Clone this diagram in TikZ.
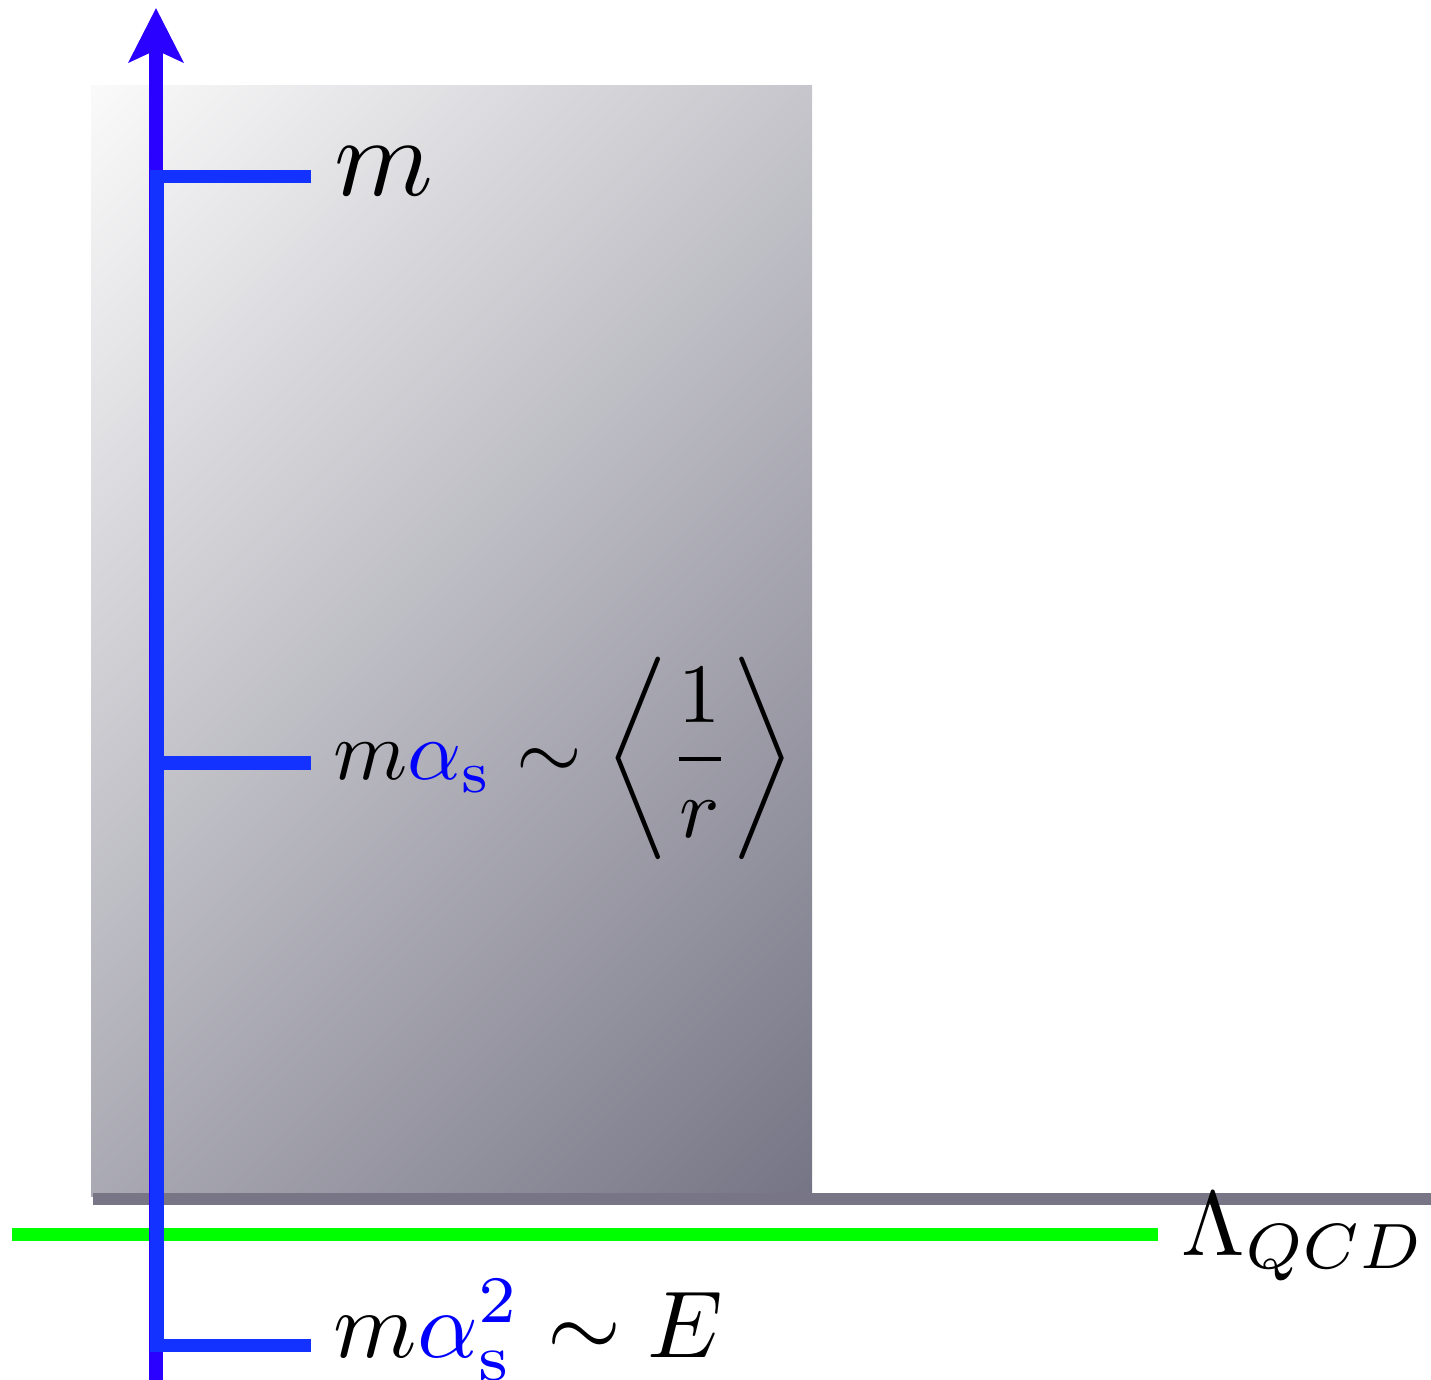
\documentclass[tikz,border=0pt]{standalone}
\usepackage{amsmath,xcolor}
\usetikzlibrary{arrows.meta,positioning}
\definecolor{axisviolet}{HTML}{2A00FF}
\definecolor{scaleblue}{HTML}{1432FF}
\definecolor{qcdgreen}{HTML}{00FF00}
\definecolor{slate}{HTML}{787686}
\definecolor{fogtop}{HTML}{FAFAFA}
\definecolor{fogbot}{HTML}{767585}
\pgfdeclareverticalshading{fogpanel}{100bp}{color(0bp)=(fogbot); color(14.6bp)=(fogbot); color(85.4bp)=(fogtop); color(100bp)=(fogtop)}
\begin{document}
\begin{tikzpicture}[x=.01cm,y=-.01cm,
  scalelbl/.style={anchor=base west,inner sep=0pt},
  tick/.style={scaleblue,line width=.13cm}]
\useasboundingbox (0,0) rectangle (1431,1380);
\shade[shading=fogpanel,shading angle=45] (91,86) rectangle (812,1196);
\fill[slate] (93,1193) rectangle (1431,1205);
\coordinate (g0) at (12,1234);
\coordinate (g1) at (1158,1234);
\draw[qcdgreen,line width=.13cm] (g0) -- (g1);
\coordinate (foot) at (156,1380);
\coordinate (top) at (156,8);
\draw[axisviolet,line width=.13cm,-{Stealth[length=.54cm,width=.54cm,inset=.12cm]}] (foot) -- (top);
\coordinate (c1) at (157,177);
\coordinate (c2) at (157,763);
\coordinate (c3) at (157,1345);
\coordinate (t1) at (311,177);
\coordinate (t2) at (311,763);
\coordinate (t3) at (311,1345);
\draw[tick] (t1) -- (c1) -- (c3) -- (t3);
\draw[tick] (c2) -- (t2);
\node[scalelbl,scale=3.2] (mass) at (332,196) {$m$};
\node[scalelbl,scale=2.4] (bohr) at (332,780) {$m\textcolor{blue}{\alpha_{\mathrm{s}}}\sim\left\langle\dfrac{1}{r}\right\rangle$};
\node[scalelbl,scale=2.7] (ultra) at (332,1357) {$m\textcolor{blue}{\alpha_{\mathrm{s}}^{2}}\sim E$};
\node[scalelbl,scale=2.6] (lqcd) at (1180,1255) {$\Lambda_{QCD}$};
\end{tikzpicture}
\end{document}
